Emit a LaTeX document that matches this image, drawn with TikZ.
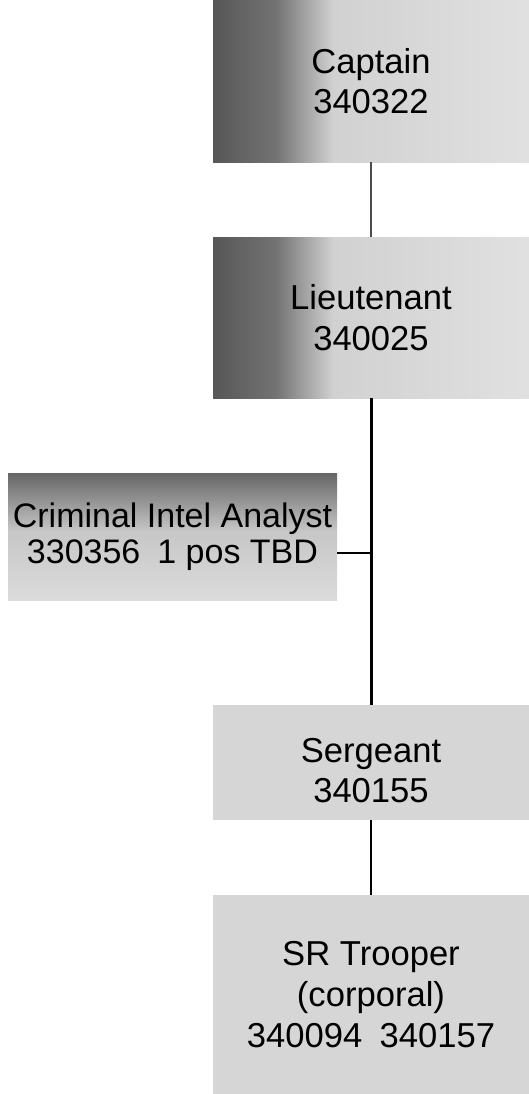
\documentclass[tikz,border=0pt]{standalone}
\usepackage{fontspec}
\setmainfont{Liberation Sans}
\usetikzlibrary{calc}

% shadings of the scanned boxes
\pgfdeclarehorizontalshading{rankfade}{100bp}{color(0bp)=(black!66); color(25bp)=(black!66); color(35bp)=(black!55); color(44bp)=(black!18); color(75bp)=(black!12); color(100bp)=(black!12)}
\pgfdeclareverticalshading{analystfade}{100bp}{color(0bp)=(black!14); color(25bp)=(black!14); color(52bp)=(black!22); color(75bp)=(black!60); color(100bp)=(black!60)}

\begin{document}
\begin{tikzpicture}[x=0.5pt, y=-0.5pt,
  rank/.style={minimum width=158pt, inner sep=0pt, align=center,
    font=\fontsize{17.3}{20.3}\selectfont},
  link/.style={line width=1pt}]
  % Fix the page to the size of the chart
  \useasboundingbox (0,0) rectangle (529,1094);

  % Centres of the boxes
  \coordinate (C) at (371,81);
  \coordinate (L) at (371,317.5);
  \coordinate (A) at (172.5,536.5);
  \coordinate (S) at (371,762.5);
  \coordinate (T) at (371,994.5);

  % Draw the boxes
  \node[rank, minimum height=81pt, shading=rankfade] (captain) at (C) {Captain\\340322};
  \node[rank, minimum height=80.5pt, shading=rankfade] (lieut) at (L) {Lieutenant\\340025};
  \node[rank, minimum width=164.5pt, minimum height=63.5pt, shading=analystfade,
    font=\fontsize{17}{18}\selectfont] (analyst) at (A) {Criminal Intel Analyst\\330356\enspace 1 pos TBD};
  \node[rank, minimum height=57.5pt, fill=black!16] (sgt) at (S) {\rule{0pt}{20pt}Sergeant\\340155};
  \node[rank, minimum height=99.5pt, fill=black!16] (trooper) at (T) {SR Trooper\\(corporal)\\340094\enspace 340157};

  % Draw the lines
  \draw[link, black!70] (captain) -- (lieut);
  \draw[link, line width=1.5pt] (lieut) -- (sgt);
  \coordinate (tee) at ($(analyst.east)+(0,16)$);
  \draw[link] (tee) -- (tee -| lieut.south);
  \draw[link] (sgt) -- (trooper);
\end{tikzpicture}
\end{document}
